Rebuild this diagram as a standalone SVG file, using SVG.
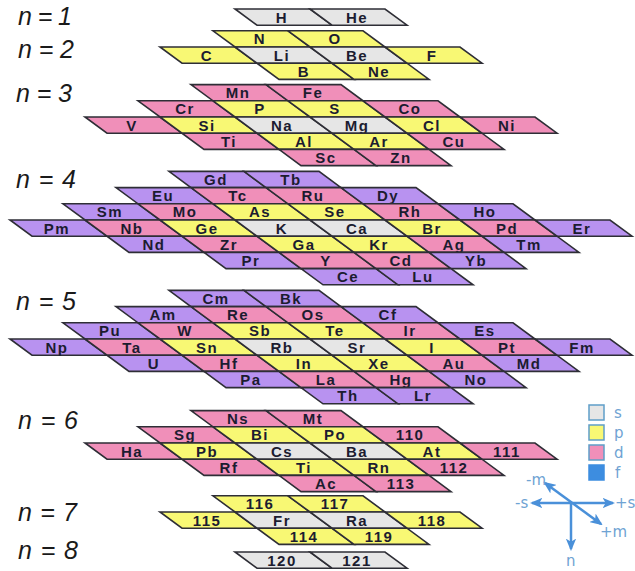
<svg xmlns="http://www.w3.org/2000/svg" width="635" height="571" viewBox="0 0 635 571">
<defs>
<style>
.s{fill:#e6e6e6}.p{fill:#f8f874}.d{fill:#f08fb9}.f{fill:#b892f0}
path.s,path.p,path.d,path.f{stroke:#2e2e36;stroke-width:1.6;stroke-linejoin:miter}
text.e{font-family:"Liberation Sans",Arial,sans-serif;font-weight:bold;font-size:15px;letter-spacing:1.5px;fill:#1c1c30;text-anchor:middle}
text.n{font-family:"Liberation Sans",Arial,sans-serif;font-style:italic;font-size:25px;fill:#1a1a1a}
text.lg{font-family:"DejaVu Sans",sans-serif;font-size:15px;fill:#6fa3d3}
.ax{stroke:#4a90d9;stroke-width:2.5;fill:none}
</style>
<marker id="ah" viewBox="0 0 12 10" refX="10" refY="5" markerWidth="5" markerHeight="4.2" orient="auto-start-reverse" markerUnits="strokeWidth">
<path d="M0 0L12 5L0 10L3 5z" fill="#4a90d9"/>
</marker>
</defs>
<rect width="635" height="571" fill="#ffffff"/>

<g id="labels">
<text class="n" x="18" y="25" textLength="54" lengthAdjust="spacing">n=1</text>
<text class="n" x="18" y="58" textLength="56" lengthAdjust="spacing">n=2</text>
<text class="n" x="16" y="102" textLength="56" lengthAdjust="spacing">n=3</text>
<text class="n" x="16" y="188" textLength="60" lengthAdjust="spacing">n=4</text>
<text class="n" x="16" y="310" textLength="60" lengthAdjust="spacing">n=5</text>
<text class="n" x="18" y="429" textLength="60" lengthAdjust="spacing">n=6</text>
<text class="n" x="18" y="521" textLength="59" lengthAdjust="spacing">n=7</text>
<text class="n" x="18" y="559" textLength="60" lengthAdjust="spacing">n=8</text>
</g>

<!-- n=1 -->
<g id="H" transform="translate(235,9)"><path class="s" d="M0 0h75l22 16.2h-75z"/><text class="e" x="47" y="13.5">H</text></g>
<g id="He" transform="translate(310,9)"><path class="s" d="M0 0h75l22 16.2h-75z"/><text class="e" x="47" y="13.5">He</text></g>

<!-- n=2 -->
<g id="N" transform="translate(213,30.8)"><path class="p" d="M0 0h75l22 16.2h-75z"/><text class="e" x="47" y="13.5">N</text></g>
<g id="O" transform="translate(288,30.8)"><path class="p" d="M0 0h75l22 16.2h-75z"/><text class="e" x="47" y="13.5">O</text></g>
<g id="C" transform="translate(160,47)"><path class="p" d="M0 0h75l22 16.2h-75z"/><text class="e" x="47" y="13.5">C</text></g>
<g id="Li" transform="translate(235,47)"><path class="s" d="M0 0h75l22 16.2h-75z"/><text class="e" x="47" y="13.5">Li</text></g>
<g id="Be" transform="translate(310,47)"><path class="s" d="M0 0h75l22 16.2h-75z"/><text class="e" x="47" y="13.5">Be</text></g>
<g id="F" transform="translate(385,47)"><path class="p" d="M0 0h75l22 16.2h-75z"/><text class="e" x="47" y="13.5">F</text></g>
<g id="B" transform="translate(257,63.2)"><path class="p" d="M0 0h75l22 16.2h-75z"/><text class="e" x="47" y="13.5">B</text></g>
<g id="Ne" transform="translate(332,63.2)"><path class="p" d="M0 0h75l22 16.2h-75z"/><text class="e" x="47" y="13.5">Ne</text></g>

<!-- n=3 -->
<g id="Mn" transform="translate(191,84.6)"><path class="d" d="M0 0h75l22 16.2h-75z"/><text class="e" x="47" y="13.5">Mn</text></g>
<g id="Fe" transform="translate(266,84.6)"><path class="d" d="M0 0h75l22 16.2h-75z"/><text class="e" x="47" y="13.5">Fe</text></g>
<g id="Cr" transform="translate(138,100.8)"><path class="d" d="M0 0h75l22 16.2h-75z"/><text class="e" x="47" y="13.5">Cr</text></g>
<g id="P" transform="translate(213,100.8)"><path class="p" d="M0 0h75l22 16.2h-75z"/><text class="e" x="47" y="13.5">P</text></g>
<g id="S" transform="translate(288,100.8)"><path class="p" d="M0 0h75l22 16.2h-75z"/><text class="e" x="47" y="13.5">S</text></g>
<g id="Co" transform="translate(363,100.8)"><path class="d" d="M0 0h75l22 16.2h-75z"/><text class="e" x="47" y="13.5">Co</text></g>
<g id="V" transform="translate(85,117)"><path class="d" d="M0 0h75l22 16.2h-75z"/><text class="e" x="47" y="13.5">V</text></g>
<g id="Si" transform="translate(160,117)"><path class="p" d="M0 0h75l22 16.2h-75z"/><text class="e" x="47" y="13.5">Si</text></g>
<g id="Na" transform="translate(235,117)"><path class="s" d="M0 0h75l22 16.2h-75z"/><text class="e" x="47" y="13.5">Na</text></g>
<g id="Mg" transform="translate(310,117)"><path class="s" d="M0 0h75l22 16.2h-75z"/><text class="e" x="47" y="13.5">Mg</text></g>
<g id="Cl" transform="translate(385,117)"><path class="p" d="M0 0h75l22 16.2h-75z"/><text class="e" x="47" y="13.5">Cl</text></g>
<g id="Ni" transform="translate(460,117)"><path class="d" d="M0 0h75l22 16.2h-75z"/><text class="e" x="47" y="13.5">Ni</text></g>
<g id="Ti" transform="translate(182,133.2)"><path class="d" d="M0 0h75l22 16.2h-75z"/><text class="e" x="47" y="13.5">Ti</text></g>
<g id="Al" transform="translate(257,133.2)"><path class="p" d="M0 0h75l22 16.2h-75z"/><text class="e" x="47" y="13.5">Al</text></g>
<g id="Ar" transform="translate(332,133.2)"><path class="p" d="M0 0h75l22 16.2h-75z"/><text class="e" x="47" y="13.5">Ar</text></g>
<g id="Cu" transform="translate(407,133.2)"><path class="d" d="M0 0h75l22 16.2h-75z"/><text class="e" x="47" y="13.5">Cu</text></g>
<g id="Sc" transform="translate(279,149.4)"><path class="d" d="M0 0h75l22 16.2h-75z"/><text class="e" x="47" y="13.5">Sc</text></g>
<g id="Zn" transform="translate(354,149.4)"><path class="d" d="M0 0h75l22 16.2h-75z"/><text class="e" x="47" y="13.5">Zn</text></g>

<!-- n=4 -->
<g id="Gd" transform="translate(169,171.4)"><path class="f" d="M0 0h75l22 16.2h-75z"/><text class="e" x="47" y="13.5">Gd</text></g>
<g id="Tb" transform="translate(244,171.4)"><path class="f" d="M0 0h75l22 16.2h-75z"/><text class="e" x="47" y="13.5">Tb</text></g>
<g id="Eu" transform="translate(116,187.6)"><path class="f" d="M0 0h75l22 16.2h-75z"/><text class="e" x="47" y="13.5">Eu</text></g>
<g id="Tc" transform="translate(191,187.6)"><path class="d" d="M0 0h75l22 16.2h-75z"/><text class="e" x="47" y="13.5">Tc</text></g>
<g id="Ru" transform="translate(266,187.6)"><path class="d" d="M0 0h75l22 16.2h-75z"/><text class="e" x="47" y="13.5">Ru</text></g>
<g id="Dy" transform="translate(341,187.6)"><path class="f" d="M0 0h75l22 16.2h-75z"/><text class="e" x="47" y="13.5">Dy</text></g>
<g id="Sm" transform="translate(63,203.8)"><path class="f" d="M0 0h75l22 16.2h-75z"/><text class="e" x="47" y="13.5">Sm</text></g>
<g id="Mo" transform="translate(138,203.8)"><path class="d" d="M0 0h75l22 16.2h-75z"/><text class="e" x="47" y="13.5">Mo</text></g>
<g id="As" transform="translate(213,203.8)"><path class="p" d="M0 0h75l22 16.2h-75z"/><text class="e" x="47" y="13.5">As</text></g>
<g id="Se" transform="translate(288,203.8)"><path class="p" d="M0 0h75l22 16.2h-75z"/><text class="e" x="47" y="13.5">Se</text></g>
<g id="Rh" transform="translate(363,203.8)"><path class="d" d="M0 0h75l22 16.2h-75z"/><text class="e" x="47" y="13.5">Rh</text></g>
<g id="Ho" transform="translate(438,203.8)"><path class="f" d="M0 0h75l22 16.2h-75z"/><text class="e" x="47" y="13.5">Ho</text></g>
<g id="Pm" transform="translate(10,220)"><path class="f" d="M0 0h75l22 16.2h-75z"/><text class="e" x="47" y="13.5">Pm</text></g>
<g id="Nb" transform="translate(85,220)"><path class="d" d="M0 0h75l22 16.2h-75z"/><text class="e" x="47" y="13.5">Nb</text></g>
<g id="Ge" transform="translate(160,220)"><path class="p" d="M0 0h75l22 16.2h-75z"/><text class="e" x="47" y="13.5">Ge</text></g>
<g id="K" transform="translate(235,220)"><path class="s" d="M0 0h75l22 16.2h-75z"/><text class="e" x="47" y="13.5">K</text></g>
<g id="Ca" transform="translate(310,220)"><path class="s" d="M0 0h75l22 16.2h-75z"/><text class="e" x="47" y="13.5">Ca</text></g>
<g id="Br" transform="translate(385,220)"><path class="p" d="M0 0h75l22 16.2h-75z"/><text class="e" x="47" y="13.5">Br</text></g>
<g id="Pd" transform="translate(460,220)"><path class="d" d="M0 0h75l22 16.2h-75z"/><text class="e" x="47" y="13.5">Pd</text></g>
<g id="Er" transform="translate(535,220)"><path class="f" d="M0 0h75l22 16.2h-75z"/><text class="e" x="47" y="13.5">Er</text></g>
<g id="Nd" transform="translate(107,236.2)"><path class="f" d="M0 0h75l22 16.2h-75z"/><text class="e" x="47" y="13.5">Nd</text></g>
<g id="Zr" transform="translate(182,236.2)"><path class="d" d="M0 0h75l22 16.2h-75z"/><text class="e" x="47" y="13.5">Zr</text></g>
<g id="Ga" transform="translate(257,236.2)"><path class="p" d="M0 0h75l22 16.2h-75z"/><text class="e" x="47" y="13.5">Ga</text></g>
<g id="Kr" transform="translate(332,236.2)"><path class="p" d="M0 0h75l22 16.2h-75z"/><text class="e" x="47" y="13.5">Kr</text></g>
<g id="Ag" transform="translate(407,236.2)"><path class="d" d="M0 0h75l22 16.2h-75z"/><text class="e" x="47" y="13.5">Ag</text></g>
<g id="Tm" transform="translate(482,236.2)"><path class="f" d="M0 0h75l22 16.2h-75z"/><text class="e" x="47" y="13.5">Tm</text></g>
<g id="Pr" transform="translate(204,252.4)"><path class="f" d="M0 0h75l22 16.2h-75z"/><text class="e" x="47" y="13.5">Pr</text></g>
<g id="Y" transform="translate(279,252.4)"><path class="d" d="M0 0h75l22 16.2h-75z"/><text class="e" x="47" y="13.5">Y</text></g>
<g id="Cd" transform="translate(354,252.4)"><path class="d" d="M0 0h75l22 16.2h-75z"/><text class="e" x="47" y="13.5">Cd</text></g>
<g id="Yb" transform="translate(429,252.4)"><path class="f" d="M0 0h75l22 16.2h-75z"/><text class="e" x="47" y="13.5">Yb</text></g>
<g id="Ce" transform="translate(301,268.6)"><path class="f" d="M0 0h75l22 16.2h-75z"/><text class="e" x="47" y="13.5">Ce</text></g>
<g id="Lu" transform="translate(376,268.6)"><path class="f" d="M0 0h75l22 16.2h-75z"/><text class="e" x="47" y="13.5">Lu</text></g>

<!-- n=5 -->
<g id="Cm" transform="translate(169,290.4)"><path class="f" d="M0 0h75l22 16.2h-75z"/><text class="e" x="47" y="13.5">Cm</text></g>
<g id="Bk" transform="translate(244,290.4)"><path class="f" d="M0 0h75l22 16.2h-75z"/><text class="e" x="47" y="13.5">Bk</text></g>
<g id="Am" transform="translate(116,306.6)"><path class="f" d="M0 0h75l22 16.2h-75z"/><text class="e" x="47" y="13.5">Am</text></g>
<g id="Re" transform="translate(191,306.6)"><path class="d" d="M0 0h75l22 16.2h-75z"/><text class="e" x="47" y="13.5">Re</text></g>
<g id="Os" transform="translate(266,306.6)"><path class="d" d="M0 0h75l22 16.2h-75z"/><text class="e" x="47" y="13.5">Os</text></g>
<g id="Cf" transform="translate(341,306.6)"><path class="f" d="M0 0h75l22 16.2h-75z"/><text class="e" x="47" y="13.5">Cf</text></g>
<g id="Pu" transform="translate(63,322.8)"><path class="f" d="M0 0h75l22 16.2h-75z"/><text class="e" x="47" y="13.5">Pu</text></g>
<g id="W" transform="translate(138,322.8)"><path class="d" d="M0 0h75l22 16.2h-75z"/><text class="e" x="47" y="13.5">W</text></g>
<g id="Sb" transform="translate(213,322.8)"><path class="p" d="M0 0h75l22 16.2h-75z"/><text class="e" x="47" y="13.5">Sb</text></g>
<g id="Te" transform="translate(288,322.8)"><path class="p" d="M0 0h75l22 16.2h-75z"/><text class="e" x="47" y="13.5">Te</text></g>
<g id="Ir" transform="translate(363,322.8)"><path class="d" d="M0 0h75l22 16.2h-75z"/><text class="e" x="47" y="13.5">Ir</text></g>
<g id="Es" transform="translate(438,322.8)"><path class="f" d="M0 0h75l22 16.2h-75z"/><text class="e" x="47" y="13.5">Es</text></g>
<g id="Np" transform="translate(10,339)"><path class="f" d="M0 0h75l22 16.2h-75z"/><text class="e" x="47" y="13.5">Np</text></g>
<g id="Ta" transform="translate(85,339)"><path class="d" d="M0 0h75l22 16.2h-75z"/><text class="e" x="47" y="13.5">Ta</text></g>
<g id="Sn" transform="translate(160,339)"><path class="p" d="M0 0h75l22 16.2h-75z"/><text class="e" x="47" y="13.5">Sn</text></g>
<g id="Rb" transform="translate(235,339)"><path class="s" d="M0 0h75l22 16.2h-75z"/><text class="e" x="47" y="13.5">Rb</text></g>
<g id="Sr" transform="translate(310,339)"><path class="s" d="M0 0h75l22 16.2h-75z"/><text class="e" x="47" y="13.5">Sr</text></g>
<g id="I" transform="translate(385,339)"><path class="p" d="M0 0h75l22 16.2h-75z"/><text class="e" x="47" y="13.5">I</text></g>
<g id="Pt" transform="translate(460,339)"><path class="d" d="M0 0h75l22 16.2h-75z"/><text class="e" x="47" y="13.5">Pt</text></g>
<g id="Fm" transform="translate(535,339)"><path class="f" d="M0 0h75l22 16.2h-75z"/><text class="e" x="47" y="13.5">Fm</text></g>
<g id="U" transform="translate(107,355.2)"><path class="f" d="M0 0h75l22 16.2h-75z"/><text class="e" x="47" y="13.5">U</text></g>
<g id="Hf" transform="translate(182,355.2)"><path class="d" d="M0 0h75l22 16.2h-75z"/><text class="e" x="47" y="13.5">Hf</text></g>
<g id="In" transform="translate(257,355.2)"><path class="p" d="M0 0h75l22 16.2h-75z"/><text class="e" x="47" y="13.5">In</text></g>
<g id="Xe" transform="translate(332,355.2)"><path class="p" d="M0 0h75l22 16.2h-75z"/><text class="e" x="47" y="13.5">Xe</text></g>
<g id="Au" transform="translate(407,355.2)"><path class="d" d="M0 0h75l22 16.2h-75z"/><text class="e" x="47" y="13.5">Au</text></g>
<g id="Md" transform="translate(482,355.2)"><path class="f" d="M0 0h75l22 16.2h-75z"/><text class="e" x="47" y="13.5">Md</text></g>
<g id="Pa" transform="translate(204,371.4)"><path class="f" d="M0 0h75l22 16.2h-75z"/><text class="e" x="47" y="13.5">Pa</text></g>
<g id="La" transform="translate(279,371.4)"><path class="d" d="M0 0h75l22 16.2h-75z"/><text class="e" x="47" y="13.5">La</text></g>
<g id="Hg" transform="translate(354,371.4)"><path class="d" d="M0 0h75l22 16.2h-75z"/><text class="e" x="47" y="13.5">Hg</text></g>
<g id="No" transform="translate(429,371.4)"><path class="f" d="M0 0h75l22 16.2h-75z"/><text class="e" x="47" y="13.5">No</text></g>
<g id="Th" transform="translate(301,387.6)"><path class="f" d="M0 0h75l22 16.2h-75z"/><text class="e" x="47" y="13.5">Th</text></g>
<g id="Lr" transform="translate(376,387.6)"><path class="f" d="M0 0h75l22 16.2h-75z"/><text class="e" x="47" y="13.5">Lr</text></g>

<!-- n=6 -->
<g id="Ns" transform="translate(191,410.6)"><path class="d" d="M0 0h75l22 16.2h-75z"/><text class="e" x="47" y="13.5">Ns</text></g>
<g id="Mt" transform="translate(266,410.6)"><path class="d" d="M0 0h75l22 16.2h-75z"/><text class="e" x="47" y="13.5">Mt</text></g>
<g id="Sg" transform="translate(138,426.8)"><path class="d" d="M0 0h75l22 16.2h-75z"/><text class="e" x="47" y="13.5">Sg</text></g>
<g id="Bi" transform="translate(213,426.8)"><path class="p" d="M0 0h75l22 16.2h-75z"/><text class="e" x="47" y="13.5">Bi</text></g>
<g id="Po" transform="translate(288,426.8)"><path class="p" d="M0 0h75l22 16.2h-75z"/><text class="e" x="47" y="13.5">Po</text></g>
<g id="e110" transform="translate(363,426.8)"><path class="d" d="M0 0h75l22 16.2h-75z"/><text class="e" x="47" y="13.5">110</text></g>
<g id="Ha" transform="translate(85,443)"><path class="d" d="M0 0h75l22 16.2h-75z"/><text class="e" x="47" y="13.5">Ha</text></g>
<g id="Pb" transform="translate(160,443)"><path class="p" d="M0 0h75l22 16.2h-75z"/><text class="e" x="47" y="13.5">Pb</text></g>
<g id="Cs" transform="translate(235,443)"><path class="s" d="M0 0h75l22 16.2h-75z"/><text class="e" x="47" y="13.5">Cs</text></g>
<g id="Ba" transform="translate(310,443)"><path class="s" d="M0 0h75l22 16.2h-75z"/><text class="e" x="47" y="13.5">Ba</text></g>
<g id="At" transform="translate(385,443)"><path class="p" d="M0 0h75l22 16.2h-75z"/><text class="e" x="47" y="13.5">At</text></g>
<g id="e111" transform="translate(460,443)"><path class="d" d="M0 0h75l22 16.2h-75z"/><text class="e" x="47" y="13.5">111</text></g>
<g id="Rf" transform="translate(182,459.2)"><path class="d" d="M0 0h75l22 16.2h-75z"/><text class="e" x="47" y="13.5">Rf</text></g>
<g id="Tl" transform="translate(257,459.2)"><path class="p" d="M0 0h75l22 16.2h-75z"/><text class="e" x="47" y="13.5">Ti</text></g>
<g id="Rn" transform="translate(332,459.2)"><path class="p" d="M0 0h75l22 16.2h-75z"/><text class="e" x="47" y="13.5">Rn</text></g>
<g id="e112" transform="translate(407,459.2)"><path class="d" d="M0 0h75l22 16.2h-75z"/><text class="e" x="47" y="13.5">112</text></g>
<g id="Ac" transform="translate(279,475.4)"><path class="d" d="M0 0h75l22 16.2h-75z"/><text class="e" x="47" y="13.5">Ac</text></g>
<g id="e113" transform="translate(354,475.4)"><path class="d" d="M0 0h75l22 16.2h-75z"/><text class="e" x="47" y="13.5">113</text></g>

<!-- n=7 -->
<g id="e116" transform="translate(213,495.8)"><path class="p" d="M0 0h75l22 16.2h-75z"/><text class="e" x="47" y="13.5">116</text></g>
<g id="e117" transform="translate(288,495.8)"><path class="p" d="M0 0h75l22 16.2h-75z"/><text class="e" x="47" y="13.5">117</text></g>
<g id="e115" transform="translate(160,512)"><path class="p" d="M0 0h75l22 16.2h-75z"/><text class="e" x="47" y="13.5">115</text></g>
<g id="Fr" transform="translate(235,512)"><path class="s" d="M0 0h75l22 16.2h-75z"/><text class="e" x="47" y="13.5">Fr</text></g>
<g id="Ra" transform="translate(310,512)"><path class="s" d="M0 0h75l22 16.2h-75z"/><text class="e" x="47" y="13.5">Ra</text></g>
<g id="e118" transform="translate(385,512)"><path class="p" d="M0 0h75l22 16.2h-75z"/><text class="e" x="47" y="13.5">118</text></g>
<g id="e114" transform="translate(257,528.2)"><path class="p" d="M0 0h75l22 16.2h-75z"/><text class="e" x="47" y="13.5">114</text></g>
<g id="e119" transform="translate(332,528.2)"><path class="p" d="M0 0h75l22 16.2h-75z"/><text class="e" x="47" y="13.5">119</text></g>

<!-- n=8 -->
<g id="e120" transform="translate(235,552)"><path class="s" d="M0 0h75l22 16.2h-75z"/><text class="e" x="47" y="13.5">120</text></g>
<g id="e121" transform="translate(310,552)"><path class="s" d="M0 0h75l22 16.2h-75z"/><text class="e" x="47" y="13.5">121</text></g>

<!-- legend -->
<g id="legend">
<rect class="s" x="589" y="405" width="15" height="15" stroke="#5f9ec9" stroke-width="1.5"/>
<rect class="p" x="589" y="425" width="15" height="15" stroke="#5f9ec9" stroke-width="1.5"/>
<rect class="d" x="589" y="445" width="15" height="15" stroke="#5f9ec9" stroke-width="1.5"/>
<rect x="589" y="465" width="15" height="15" fill="#3d8de0" stroke="#3d8de0" stroke-width="1.5"/>
<text class="lg" x="614" y="418">s</text>
<text class="lg" x="614" y="438">p</text>
<text class="lg" x="614" y="458">d</text>
<text class="lg" x="615" y="478">f</text>
</g>

<!-- axes -->
<g id="connectors">
<line class="ax" x1="532" y1="503" x2="613" y2="503" marker-start="url(#ah)" marker-end="url(#ah)"/>
<line class="ax" x1="571" y1="503" x2="571" y2="549" marker-end="url(#ah)"/>
<line class="ax" x1="545" y1="483" x2="601" y2="524" marker-start="url(#ah)" marker-end="url(#ah)"/>
<text class="lg" x="526" y="485">-m</text>
<text class="lg" x="515" y="508">-s</text>
<text class="lg" x="615" y="508">+s</text>
<text class="lg" x="600" y="537">+m</text>
<text class="lg" x="566" y="566">n</text>
</g>
</svg>
